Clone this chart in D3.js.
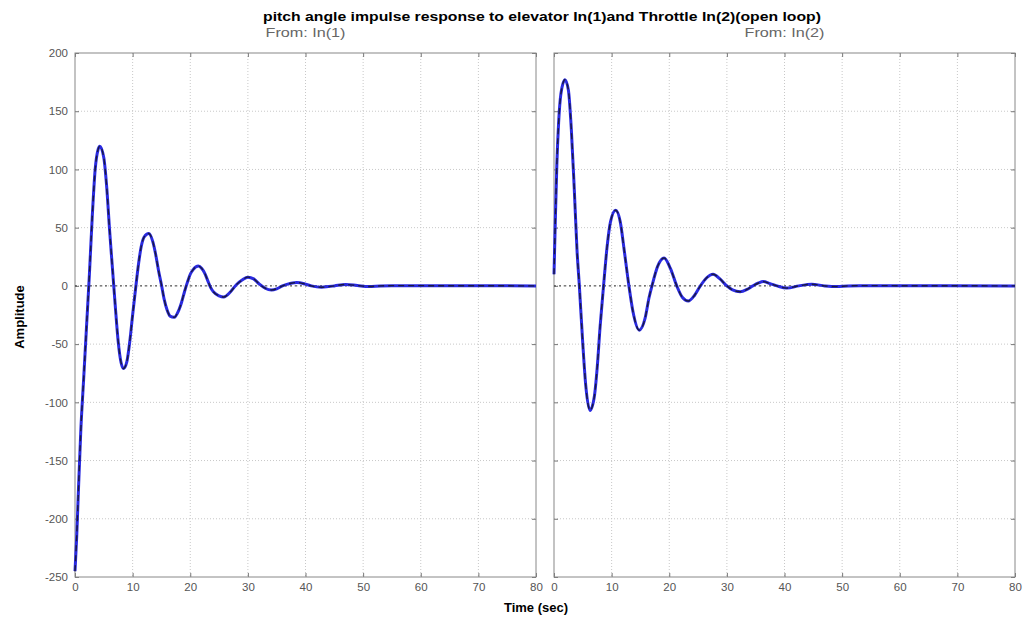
<!DOCTYPE html>
<html>
<head>
<meta charset="utf-8">
<script src="https://cdn.jsdelivr.net/npm/d3@7"></script>
<style>
  body { margin: 0; background: #fff; }
  svg { font-family: "Liberation Sans", Arial, sans-serif; }
</style>
</head>
<body>
<svg id="chart" width="1026" height="626"></svg>
<script>
// values
const xTicks = [0, 10, 20, 30, 40, 50, 60, 70, 80];
const yTicks = [200, 150, 100, 50, 0, -50, -100, -150, -200, -250];

// From: In(1)
const leftT = [0, 0.3, 0.6, 1.0, 1.5, 2.0, 2.5, 3.0, 3.5, 4.0, 4.3, 5.0, 5.5, 6.0, 6.5, 7.0, 7.5, 8.0, 8.4,
  9.0, 9.5, 10.0, 10.5, 11.0, 11.5, 12.0, 12.8, 13.5, 14.0, 14.5, 15.0, 15.5, 16.0, 16.5, 17.2, 18.0, 18.5,
  19.0, 19.5, 20.0, 20.5, 21.4, 22.0, 22.5, 23.0, 23.5, 24.0, 25.0, 25.8, 27.0, 28.0, 29.0, 30.0, 31.0, 32.0,
  33.0, 34.1, 35.0, 36.0, 37.5, 38.5, 40.0, 41.0, 42.8, 44.0, 45.0, 47.0, 49.0, 51.0, 53.0, 55.0, 80];
const leftY = [-245, -215, -175, -125, -80, -35, 10, 60, 100, 117, 120, 110, 85, 48, 15, -18, -48, -66, -71,
  -65, -48, -25, -3, 18, 34, 42, 45, 38, 27, 13, 1, -12, -21, -26, -27, -21, -14,
  -5, 3, 10, 14, 17, 15, 11, 5, -1, -5, -8.5, -9.5, -5, 1, 5, 7.5, 6, 1.5,
  -2, -3.5, -2.5, 0, 2.3, 2.9, 1.5, 0, -1.2, -0.6, 0, 1.2, 0.3, -0.5, 0, 0.2, 0];

// From: In(2)
const rightT = [0, 0.25, 0.5, 0.8, 1.2, 1.9, 2.5, 3.0, 3.5, 4.0, 4.4, 5.0, 5.5, 6.25, 7.0, 7.5, 8.0, 8.6,
  9.2, 9.8, 10.7, 11.5, 12.2, 13.0, 13.7, 14.8, 15.8, 16.5, 17.0, 18.0, 19.1, 20.2, 21.3, 22.3, 23.3, 24.4,
  25.4, 26.5, 27.6, 28.8, 30.0, 31.0, 32.3, 33.5, 34.5, 35.5, 36.3, 37.5, 38.7, 40.4, 42.5, 44.7, 47.0,
  49.0, 51.0, 53.0, 80];
const rightY = [10, 60, 105, 140, 165, 177, 168, 135, 85, 30, 0, -50, -85, -107, -95, -70, -35, 0,
  33, 55, 65, 55, 30, 0, -22, -38, -28, -10, 0, 17, 24, 15, 0, -10, -13, -8,
  0, 7, 10, 6, 0, -3.5, -5, -3, 0, 2.5, 3.7, 2, 0, -1.9, 0, 1.4, 0,
  -0.6, 0, 0.2, 0];

const title = "pitch angle impulse response to elevator In(1)and Throttle In(2)(open loop)";
const panels = [
  {name: "From: In(1)", t: leftT, v: leftY, left: 75, right: 536, labels: true},
  {name: "From: In(2)", t: rightT, v: rightY, left: 554, right: 1015, labels: false}
];

const svg = d3.select("#chart");
const plotTop = 53, plotBottom = 577;

const y = d3.scaleLinear().domain([-250, 200]).range([plotBottom, plotTop]);

panels.forEach(p => {
  const x = d3.scaleLinear().domain([0, 80]).range([p.left, p.right]);
  const g = svg.append("g");

  // grid
  g.selectAll(".gx").data(xTicks.slice(1, -1)).join("line")
    .attr("x1", d => x(d)).attr("x2", d => x(d))
    .attr("y1", plotTop).attr("y2", plotBottom)
    .attr("stroke", "#c8c8c8").attr("stroke-dasharray", "1,2");
  g.selectAll(".gy").data(yTicks.slice(1, -1)).join("line")
    .attr("y1", d => y(d)).attr("y2", d => y(d))
    .attr("x1", p.left).attr("x2", p.right)
    .attr("stroke", "#c8c8c8").attr("stroke-dasharray", "1,2");

  // axes (ticks inward, MATLAB style)
  g.append("g").attr("transform", `translate(0,${plotBottom})`)
    .call(d3.axisBottom(x).tickValues(xTicks).tickSize(-4).tickPadding(6))
    .call(a => a.select(".domain").remove())
    .call(a => a.selectAll("text").attr("font-size", 11.5).attr("fill", "#555"))
    .call(a => a.selectAll("line").attr("stroke", "#777"));
  g.append("g").attr("transform", `translate(0,${plotTop})`)
    .call(d3.axisTop(x).tickValues(xTicks).tickSize(-4).tickFormat(""))
    .call(a => a.select(".domain").remove())
    .call(a => a.selectAll("line").attr("stroke", "#777"));
  g.append("g").attr("transform", `translate(${p.left},0)`)
    .call(d3.axisLeft(y).tickValues(yTicks).tickSize(-4).tickPadding(7)
      .tickFormat(p.labels ? (d => String(d)) : ""))
    .call(a => a.select(".domain").remove())
    .call(a => a.selectAll("text").attr("font-size", 11.5).attr("fill", "#555"))
    .call(a => a.selectAll("line").attr("stroke", "#777"));
  g.append("g").attr("transform", `translate(${p.right},0)`)
    .call(d3.axisRight(y).tickValues(yTicks).tickSize(-4).tickFormat(""))
    .call(a => a.select(".domain").remove())
    .call(a => a.selectAll("line").attr("stroke", "#777"));

  g.append("rect")
    .attr("x", p.left).attr("y", plotTop)
    .attr("width", p.right - p.left).attr("height", plotBottom - plotTop)
    .attr("fill", "none").attr("stroke", "#888").attr("stroke-width", 1);

  // zero reference line
  g.append("line")
    .attr("x1", p.left).attr("x2", p.right)
    .attr("y1", y(0)).attr("y2", y(0))
    .attr("stroke", "#333").attr("stroke-dasharray", "2,3");

  const pts = p.t.map((t, i) => [t, p.v[i]]);
  const line = d3.line()
    .x(d => x(d[0]))
    .y(d => y(d[1]))
    .curve(d3.curveMonotoneX);

  g.append("path").datum(pts)
    .attr("fill", "none").attr("stroke", "#2a2ae0")
    .attr("stroke-width", 3).attr("stroke-linejoin", "round")
    .attr("d", line);
  g.append("path").datum(pts)
    .attr("fill", "none").attr("stroke", "#1a1a40")
    .attr("stroke-width", 1.4).attr("stroke-dasharray", "6,4")
    .attr("d", line);

  svg.append("text")
    .attr("x", (p.left + p.right) / 2).attr("y", 37)
    .attr("text-anchor", "middle").attr("font-size", 12.5).attr("fill", "#666")
    .attr("textLength", 80).attr("lengthAdjust", "spacingAndGlyphs")
    .text(p.name);
});

svg.append("text")
  .attr("x", 542).attr("y", 21)
  .attr("text-anchor", "middle").attr("font-size", 13.5).attr("font-weight", "bold")
  .attr("textLength", 558).attr("lengthAdjust", "spacingAndGlyphs")
  .text(title);

svg.append("text")
  .attr("transform", "translate(24,317) rotate(-90)")
  .attr("text-anchor", "middle").attr("font-size", 13).attr("font-weight", "bold")
  .text("Amplitude");

svg.append("text")
  .attr("x", 536).attr("y", 612)
  .attr("text-anchor", "middle").attr("font-size", 13).attr("font-weight", "bold")
  .text("Time (sec)");
</script>
</body>
</html>
